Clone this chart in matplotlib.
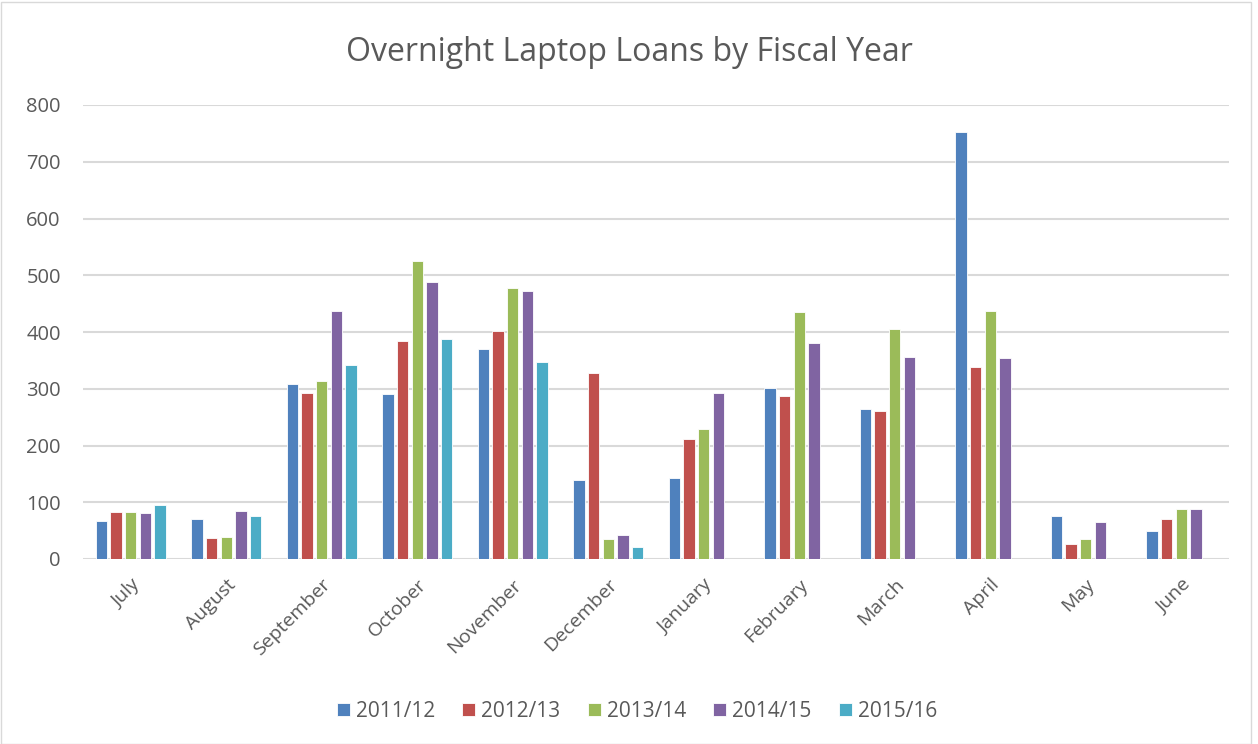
import numpy as np
import matplotlib
matplotlib.use("Agg")
import matplotlib.pyplot as plt
from matplotlib.patches import Rectangle

months = ["July", "August", "September", "October", "November", "December",
          "January", "February", "March", "April", "May", "June"]
series_names = ["2011/12", "2012/13", "2013/14", "2014/15", "2015/16"]
fy_2011_12 = [67, 71, 308, 291, 370, 139, 142, 301, 264, 753, 76, 49]
fy_2012_13 = [83, 37, 292, 384, 402, 327, 211, 287, 260, 338, 26, 71]
fy_2013_14 = [82, 39, 313, 525, 478, 35, 229, 435, 406, 437, 35, 88]
fy_2014_15 = [81, 85, 437, 488, 472, 43, 292, 381, 356, 355, 65, 88]
fy_2015_16 = [95, 76, 341, 387, 348, 21, np.nan, np.nan, np.nan, np.nan, np.nan, np.nan]
colors = ["#4f81bd", "#c0504d", "#9bbb59", "#8064a2", "#4bacc6"]
yticks = [0, 100, 200, 300, 400, 500, 600, 700, 800]

data = [fy_2011_12, fy_2012_13, fy_2013_14, fy_2014_15, fy_2015_16]

plt.rcParams['font.family'] = ['Open Sans', 'DejaVu Sans']
text_color = "#595959"

fig = plt.figure(figsize=(12.58, 7.44), dpi=100)
ax = fig.add_axes([83/1258, 1-559/744, (1229-83)/1258, (559-105)/744])

x = np.arange(len(months))
step = 0.154
width = 0.120
for i, (vals, name, c) in enumerate(zip(data, series_names, colors)):
    ax.bar(x + (i - 2) * step, vals, width=width, color=c, label=name,
           edgecolor="white", linewidth=0.6, zorder=3)

ax.set_xlim(-0.5, len(months) - 0.5)
ax.set_ylim(0, 800)
ax.set_yticks(yticks)
ax.set_yticklabels([str(t) for t in yticks], fontsize=14.5, color=text_color)
ax.yaxis.grid(True, color="#d9d9d9", linewidth=1.5, zorder=0)
ax.set_axisbelow(True)
for s in ax.spines.values():
    s.set_visible(False)
ax.tick_params(axis="both", length=0)
ax.tick_params(axis="y", pad=16)
ax.set_xticks(x)
ax.set_xticklabels(months, rotation=45, ha="right", rotation_mode="anchor",
                   fontsize=14, color=text_color)
ax.tick_params(axis="x", pad=12)

fig.text(0.5, 1-61/744, "Overnight Laptop Loans by Fiscal Year", ha="center",
         va="baseline", fontsize=23, color=text_color)

leg = fig.legend(loc="center", bbox_to_anchor=(637/1258, 1-711.5/744), ncol=5,
                 frameon=False, fontsize=15, handlelength=0.62, handleheight=0.62,
                 handletextpad=0.3, columnspacing=1.3)
for t in leg.get_texts():
    t.set_color(text_color)

fig.patches.append(Rectangle((0.5/1258, 0.5/744), 1250/1258, 742/744,
                             transform=fig.transFigure, fill=False,
                             edgecolor="#d9d9d9", linewidth=1))

fig.savefig("out.png", dpi=100, facecolor="white")
